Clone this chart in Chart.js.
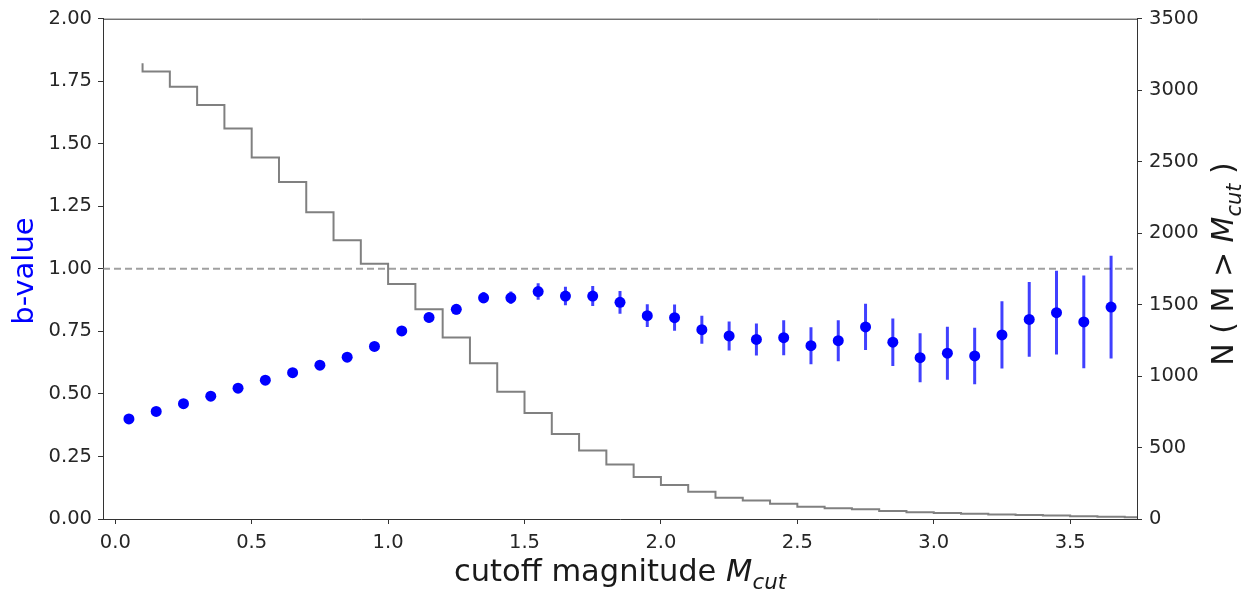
<!DOCTYPE html>
<html>
<head>
<meta charset="utf-8">
<script src="https://cdn.jsdelivr.net/npm/chart.js@4/dist/chart.umd.min.js"></script>
<style>
  html, body { margin: 0; padding: 0; background: #ffffff; }
  #wrap { width: 1250px; height: 593px; }
</style>
</head>
<body>
<div id="wrap"><canvas id="c" width="1250" height="593"></canvas></div>
<script>
// ---- data ----
const mCut = [0.05, 0.15, 0.25, 0.35, 0.45, 0.55, 0.65, 0.75, 0.85, 0.95,
              1.05, 1.15, 1.25, 1.35, 1.45, 1.55, 1.65, 1.75, 1.85, 1.95,
              2.05, 2.15, 2.25, 2.35, 2.45, 2.55, 2.65, 2.75, 2.85, 2.95,
              3.05, 3.15, 3.25, 3.35, 3.45, 3.55, 3.65];
const bValue = [0.400, 0.430, 0.461, 0.491, 0.523, 0.555, 0.585, 0.615, 0.647, 0.690,
                0.752, 0.806, 0.838, 0.884, 0.884, 0.909, 0.891, 0.891, 0.866, 0.813,
                0.805, 0.757, 0.732, 0.718, 0.725, 0.693, 0.713, 0.768, 0.707, 0.645,
                0.663, 0.652, 0.736, 0.798, 0.825, 0.788, 0.847];
const bError = [0.010, 0.010, 0.010, 0.012, 0.012, 0.013, 0.014, 0.015, 0.016, 0.017,
                0.018, 0.020, 0.020, 0.022, 0.025, 0.033, 0.037, 0.040, 0.045, 0.045,
                0.052, 0.056, 0.058, 0.064, 0.070, 0.074, 0.082, 0.092, 0.095, 0.098,
                0.106, 0.113, 0.134, 0.149, 0.167, 0.185, 0.205];
const stepMag = [0.1, 0.2, 0.3, 0.4, 0.5, 0.6, 0.7, 0.8, 0.9, 1.0,
                 1.1, 1.2, 1.3, 1.4, 1.5, 1.6, 1.7, 1.8, 1.9, 2.0,
                 2.1, 2.2, 2.3, 2.4, 2.5, 2.6, 2.7, 2.8, 2.9, 3.0,
                 3.1, 3.2, 3.3, 3.4, 3.5, 3.6, 3.7, 3.8];
const nAbove = [3189, 3131, 3024, 2896, 2731, 2529, 2357, 2146, 1950, 1785,
                1644, 1467, 1269, 1090, 890, 741, 595, 479, 381, 293,
                237, 190, 149, 130, 107, 86, 75, 68, 56, 48,
                42, 36, 32, 28, 24, 20, 16, 12];
const refB = 1.0;
const xRange = [-0.045, 3.745];
const bRange = [0, 2];
const nRange = [0, 3500];

// ---- derived datasets ----
const pts = mCut.map((m, i) => ({x: m, y: bValue[i]}));
const errSeg = [];
mCut.forEach((m, i) => {
  errSeg.push({x: m, y: bValue[i] - bError[i]});
  errSeg.push({x: m, y: bValue[i] + bError[i]});
  errSeg.push({x: m, y: null});
});
const stepPts = stepMag.map((m, i) => ({x: m, y: nAbove[i]}));
const refLine = [{x: xRange[0], y: refB}, {x: xRange[1], y: refB}];

const AX = '#333333';
const TICKF = {family: 'DejaVu Sans', size: 19.5};

function drawRich(ctx, parts, size) {
  let w = 0;
  const seg = parts.map(p => {
    const fs = p.sub ? size * 0.7 : size;
    const font = (p.it ? 'italic ' : '') + fs + 'px "DejaVu Sans"';
    ctx.font = font;
    const pw = ctx.measureText(p.t).width;
    const s = {t: p.t, font, x: w, dy: p.sub ? size * 0.25 : 0};
    w += pw;
    return s;
  });
  seg.forEach(s => {
    ctx.font = s.font;
    ctx.fillText(s.t, s.x - w / 2, s.dy);
  });
}

const framePlugin = {
  id: 'frameTitles',
  afterDraw(chart) {
    const {ctx, chartArea: a} = chart;
    ctx.save();
    ctx.strokeStyle = AX;
    ctx.lineWidth = 1;
    ctx.beginPath();
    ctx.moveTo(a.left, a.top + 0.5);
    ctx.lineTo(a.right, a.top + 0.5);
    ctx.stroke();
    ctx.textBaseline = 'alphabetic';
    ctx.textAlign = 'left';
    // x title
    ctx.fillStyle = '#1a1a1a';
    ctx.save();
    ctx.translate((a.left + a.right) / 2, 581);
    drawRich(ctx, [{t: 'cutoff magnitude '}, {t: 'M', it: true}, {t: 'cut', it: true, sub: true}], 30.5);
    ctx.restore();
    // left title
    ctx.fillStyle = '#0000ff';
    ctx.save();
    ctx.translate(33, 271);
    ctx.rotate(-Math.PI / 2);
    drawRich(ctx, [{t: 'b-value'}], 29);
    ctx.restore();
    // right title
    ctx.fillStyle = '#1a1a1a';
    ctx.save();
    ctx.translate(1233, 264);
    ctx.rotate(-Math.PI / 2);
    drawRich(ctx, [{t: 'N ( M > '}, {t: 'M', it: true}, {t: 'cut', it: true, sub: true}, {t: ' )'}], 30);
    ctx.restore();
    ctx.restore();
  }
};

new Chart(document.getElementById('c'), {
  type: 'scatter',
  data: {
    datasets: [
      {type: 'line', data: stepPts, yAxisID: 'y1', stepped: 'after', borderColor: '#808080',
       borderWidth: 2, pointRadius: 0, fill: false, order: 0},
      {type: 'scatter', data: pts, yAxisID: 'y', backgroundColor: '#0000ff', borderWidth: 0,
       pointRadius: 5.5, pointHoverRadius: 5.5, order: 1},
      {type: 'line', data: errSeg, yAxisID: 'y', borderColor: 'rgba(0,0,255,0.75)', borderWidth: 3,
       pointRadius: 0, spanGaps: false, fill: false, order: 2},
      {type: 'line', data: refLine, yAxisID: 'y', borderColor: 'rgba(128,128,128,0.75)', borderWidth: 2,
       borderDash: [7, 4], pointRadius: 0, fill: false, order: 3}
    ]
  },
  options: {
    responsive: false,
    animation: false,
    events: [],
    layout: {padding: {top: 16, left: 0, right: 0, bottom: 0}},
    plugins: {legend: {display: false}, tooltip: {enabled: false}},
    scales: {
      x: {
        type: 'linear', position: 'bottom', min: xRange[0], max: xRange[1],
        afterFit: s => { s.height = 74; },
        ticks: {stepSize: 0.5, includeBounds: false, font: TICKF, color: '#262626', padding: 7,
                maxRotation: 0, callback: v => v.toFixed(1)},
        grid: {drawOnChartArea: false, drawTicks: true, tickLength: 5, color: AX},
        border: {display: true, color: AX, width: 1}
      },
      y: {
        type: 'linear', position: 'left', min: bRange[0], max: bRange[1],
        afterFit: s => { s.width = 103; },
        ticks: {stepSize: 0.25, includeBounds: false, font: TICKF, color: '#262626', padding: 6,
                callback: v => v.toFixed(2)},
        grid: {drawOnChartArea: false, drawTicks: true, tickLength: 5, color: AX},
        border: {display: true, color: AX, width: 1}
      },
      y1: {
        type: 'linear', position: 'right', min: nRange[0], max: nRange[1],
        afterFit: s => { s.width = 113; },
        ticks: {stepSize: 500, includeBounds: false, font: TICKF, color: '#262626', padding: 7,
                callback: v => String(v)},
        grid: {drawOnChartArea: false, drawTicks: true, tickLength: 5, color: AX},
        border: {display: true, color: AX, width: 1}
      }
    }
  },
  plugins: [framePlugin]
});
</script>
</body>
</html>
